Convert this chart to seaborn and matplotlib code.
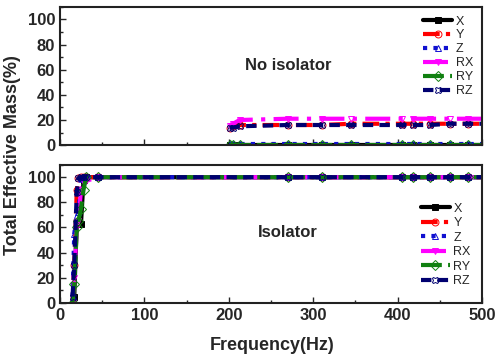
import numpy as np
import pandas as pd
import matplotlib
matplotlib.use("Agg")
import matplotlib.pyplot as plt
import seaborn as sns
from matplotlib.ticker import MultipleLocator

# no isolator (top panel)
freq_no = [201, 205, 213, 270, 310, 345, 405, 418, 438, 462, 483, 505]
X_no = [0, 0, 0, 0, 0, 0, 0, 0, 0, 0, 0, 0]
Y_no = [14, 15, 16, 16, 16, 17, 17, 17, 17, 17, 17, 17]
Z_no = [1, 1, 1, 1, 1, 1, 1, 1, 1, 1, 1, 1]
RX_no = [15, 17, 20, 21, 21, 21, 21, 21, 21, 21, 21, 21]
RY_no = [0, 0, 0, 0, 0, 0, 0, 0, 0, 0, 0, 0]
RZ_no = [14, 14, 15, 16, 16, 16, 16, 16, 16, 17, 17, 17]

# isolator (bottom panel)
freq_iso = [15, 17, 20, 22, 25, 28, 31, 45, 270, 310, 405, 418, 438, 462, 483, 505]
X_iso = [0, 5, 63, 63, 63, 98, 100, 100, 100, 100, 100, 100, 100, 100, 100, 100]
Y_iso = [0, 30, 90, 99, 100, 100, 100, 100, 100, 100, 100, 100, 100, 100, 100, 100]
Z_iso = [5, 55, 70, 72, 99, 100, 100, 100, 100, 100, 100, 100, 100, 100, 100, 100]
RX_iso = [0, 20, 60, 65, 90, 95, 97, 100, 100, 100, 100, 100, 100, 100, 100, 100]
RY_iso = [0, 15, 60, 65, 75, 90, 100, 100, 100, 100, 100, 100, 100, 100, 100, 100]
RZ_iso = [5, 30, 88, 99, 100, 100, 100, 100, 100, 100, 100, 100, 100, 100, 100, 100]

labels = ["X", "Y", "Z", "RX", "RY", "RZ"]
styles = {
    "X":  dict(color="black", marker="s", linestyle="-", mfc="black"),
    "Y":  dict(color="red", marker="o", linestyle=(0, (4, 1.5, 1, 1.5)), mfc="none"),
    "Z":  dict(color="#1010d0", marker="^", linestyle=(0, (1, 1.5)), mfc="none"),
    "RX": dict(color="magenta", marker="v", linestyle=(0, (6, 2, 1, 2)), mfc="none"),
    "RY": dict(color="#108010", marker="D", linestyle=(0, (5, 1.5)), mfc="none"),
    "RZ": dict(color="#000070", marker="X", linestyle=(0, (2.5, 1.5)), mfc="none"),
}

sns.set_style("ticks")
plt.rcParams["font.family"] = ["Liberation Sans", "DejaVu Sans"]
plt.rcParams["xtick.direction"] = "in"
plt.rcParams["ytick.direction"] = "in"

fig = plt.figure(figsize=(4.99, 3.61), dpi=100)
ax1 = fig.add_axes([0.120, 0.598, 0.846, 0.383])
ax2 = fig.add_axes([0.120, 0.161, 0.846, 0.383])

top = dict(zip(labels, [X_no, Y_no, Z_no, RX_no, RY_no, RZ_no]))
bot = dict(zip(labels, [X_iso, Y_iso, Z_iso, RX_iso, RY_iso, RZ_iso]))

for ax, freq, data in [(ax1, freq_no, top), (ax2, freq_iso, bot)]:
    for lab in labels:
        st = styles[lab]
        sns.lineplot(x=freq, y=data[lab], ax=ax, color=st["color"], label=lab,
                     linestyle=st["linestyle"], marker=st["marker"],
                     markersize=5, markerfacecolor=st["mfc"],
                     markeredgecolor=st["color"], markeredgewidth=0.7,
                     linewidth=3)
    ax.set_xlim(0, 500)
    ax.set_ylim(0, 110)
    ax.set_yticks([0, 20, 40, 60, 80, 100])
    ax.xaxis.set_major_locator(MultipleLocator(100))
    ax.xaxis.set_minor_locator(MultipleLocator(50))
    ax.yaxis.set_minor_locator(MultipleLocator(10))
    ax.tick_params(which="both", direction="in", width=1, labelsize=12)
    ax.tick_params(which="major", length=4)
    ax.tick_params(which="minor", length=2)
    for lbl in ax.get_yticklabels() + ax.get_xticklabels():
        lbl.set_fontweight("bold")
    for sp in ax.spines.values():
        sp.set_linewidth(1.5)
        sp.set_color("#222222")
    ax.set_xlabel("")
    ax.set_ylabel("")

ax1.tick_params(labelbottom=False)
ax1.legend(loc="upper right", frameon=False, fontsize=9, handlelength=2.3,
           labelspacing=0.15, borderaxespad=0.3, handletextpad=0.3)
ax2.legend(loc="center right", bbox_to_anchor=(1.0, 0.42), frameon=False,
           fontsize=9, handlelength=2.3, labelspacing=0.2, handletextpad=0.3)

ax1.text(270, 63, "No isolator", ha="center", va="center", fontsize=12,
         fontweight="bold")
ax2.text(270, 56, "Isolator", ha="center", va="center", fontsize=12,
         fontweight="bold")

fig.text(0.545, 0.042, "Frequency(Hz)", ha="center", va="center", fontsize=13,
         fontweight="bold")
fig.text(0.026, 0.57, "Total Effective Mass(%)", ha="center", va="center",
         rotation=90, fontsize=13, fontweight="bold")

fig.savefig("out.png", dpi=100)
